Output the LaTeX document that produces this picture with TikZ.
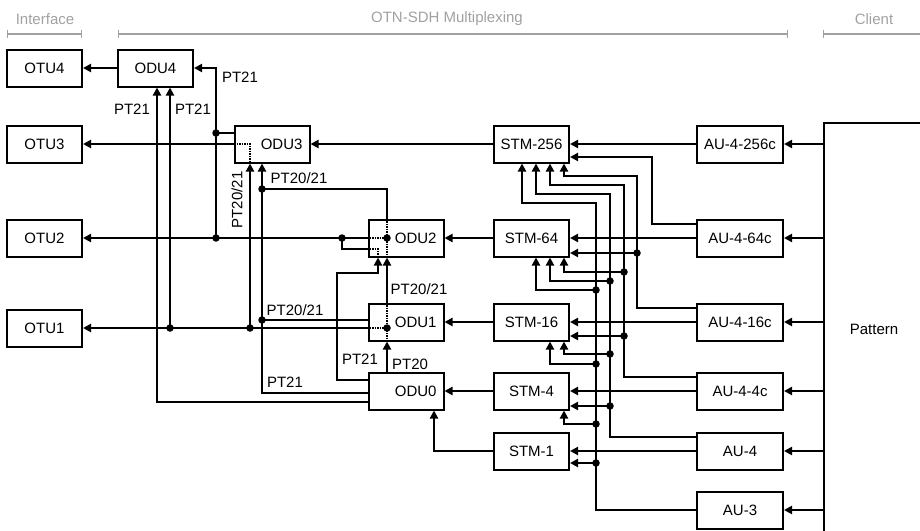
\documentclass[tikz,border=0pt]{standalone}
\usepackage{fontspec}
\setmainfont{Liberation Sans}
\usetikzlibrary{positioning,arrows.meta}

\begin{document}
\begin{tikzpicture}[x=1pt, y=-1pt, >={Triangle[length=8pt,width=8pt]}, line width=2pt,
  font=\fontsize{15}{17}\selectfont,
  box/.style={draw, minimum width=75pt, minimum height=37pt, inner sep=0pt},
  odu/.style={box, text width=61pt, align=right},
  au/.style={box, minimum width=86pt},
  lbl/.style={inner sep=0pt},
  hdr/.style={inner sep=0pt, text=black!37},
  brk/.style={draw=black!37, line width=1.3pt},
  inlink/.style={densely dotted, line width=1.5pt}]
\useasboundingbox (0,0) rectangle (920,530);
% header
\node[hdr] (hif) at (45,19) {Interface};
\node[hdr] (hotn) at (447,19) {OTN-SDH Multiplexing};
\node[hdr] (hcl) at (874,19) {Client};
\draw[brk, {Bar[width=8pt]}-{Bar[width=8pt]}] (7,34) -- (82,34);
\draw[brk, {Bar[width=8pt]}-{Bar[width=8pt]}] (118,34) -- (788,34);
\draw[brk, {Bar[width=8pt]}-] (823,34) -- (925,34);
% boxes
\node[box] (otu4) at (44.5,68) {OTU4};
\node[box] (otu3) at (44.5,144) {OTU3};
\node[box] (otu2) at (44.5,238) {OTU2};
\node[box] (otu1) at (44.5,328) {OTU1};
\node[box] (odu4) at (155.5,68) {ODU4};
\node[odu] (odu3) at (272,144) {ODU3};
\node[odu] (odu2) at (406,238) {ODU2};
\node[odu] (odu1) at (406,322) {ODU1};
\node[odu] (odu0) at (406,391) {ODU0};
\node[box, right=48.5pt of odu2] (stm64) {STM-64};
\node[box] (stm256) at (stm64 |- odu3) {STM-256};
\node[box, right=48.5pt of odu1] (stm16) {STM-16};
\node[box, right=48.5pt of odu0] (stm4) {STM-4};
\node[box, below=21pt of stm4] (stm1) {STM-1};
\node[au, right=126pt of stm256] (au256) {AU-4-256c};
\node[au, right=126pt of stm64] (au64) {AU-4-64c};
\node[au, right=126pt of stm16] (au16) {AU-4-16c};
\node[au, right=126pt of stm4] (au4c) {AU-4-4c};
\node[au, right=126pt of stm1] (au4) {AU-4};
\node[au, below=20pt of au4] (au3) {AU-3};
\node[box, minimum width=100pt, minimum height=412pt, anchor=north west] (pat) at (823,122) {Pattern};
% labels
\node[lbl] (p1) at (240,77) {PT21};
\node[lbl] (p2) at (132,109) {PT21};
\node[lbl] (p3) at (193,109) {PT21};
\node[lbl, rotate=90] (p4) at (237,200) {PT20/21};
\node[lbl] (p5) at (299,178) {PT20/21};
\node[lbl] (p6) at (419,289) {PT20/21};
\node[lbl] (p7) at (295,310) {PT20/21};
\node[lbl] (p8) at (360,359) {PT21};
\node[lbl] (p9) at (410,364) {PT20};
\node[lbl] (p10) at (285,382) {PT21};
% junctions
\coordinate (ja) at (216,133);
\coordinate (jb) at (216,238);
\coordinate (jc) at (170,328);
\coordinate (jd) at (250,328);
\coordinate (je) at (262,189);
\coordinate (jf) at (262,320);
\coordinate (jg) at (342,238);
\coordinate (jh) at (387,238);
\coordinate (ji) at (387,328);
\coordinate (k1) at (637,253);
\coordinate (k2) at (624,272);
\coordinate (k3) at (624,336);
\coordinate (k4) at (610,281);
\coordinate (k5) at (610,354);
\coordinate (k6) at (610,406);
\coordinate (k7) at (596,290);
\coordinate (k8) at (596,364);
\coordinate (k9) at (596,424);
\coordinate (k10) at (596,463);
% main rows
\foreach \a/\b in {pat.west |- au256/au256, pat.west |- au64/au64, pat.west |- au16/au16,
  pat.west |- au4c/au4c, pat.west |- au4/au4, pat.west |- au3/au3} \draw[->] (\a) -- (\b);
\foreach \a/\b in {au256/stm256, au64/stm64, au16/stm16, au4c/stm4, au4/stm1,
  stm256/odu3, stm64/odu2, stm16/odu1, stm4/odu0, odu4/otu4, odu3/otu3, odu2/otu2} \draw[->] (\a) -- (\b);
\draw[->] (ji -| odu1.west) -- (otu1);
% SDH side
\draw[->] ([yshift=14pt]au64.west) -- ++(-44,0) |- ([yshift=-13pt]stm256.east);
\draw[->] ([yshift=14pt]au16.west) -| (637,176) -| ([xshift=32.5pt]stm256.south);
\draw[->] ([yshift=14pt]au4c.west) -| (624,185) -| ([xshift=18.5pt]stm256.south);
\draw[->] ([yshift=14pt]au4.west) -| (610,194) -| ([xshift=4.5pt]stm256.south);
\draw[->] (au3) -| (596,203) -| ([xshift=-9.5pt]stm256.south);
\draw[->] (k1) -- (k1 -| stm64.east);
\draw[->] (k2) -| ([xshift=32.5pt]stm64.south);
\draw[->] (k4) -| ([xshift=18.5pt]stm64.south);
\draw[->] (k7) -| ([xshift=4.5pt]stm64.south);
\draw[->] (k3) -- (k3 -| stm16.east);
\draw[->] (k5) -| ([xshift=32.5pt]stm16.south);
\draw[->] (k8) -| ([xshift=18.5pt]stm16.south);
\draw[->] (k6) -- (k6 -| stm4.east);
\draw[->] (k9) -| ([xshift=32.5pt]stm4.south);
\draw[->] (k10) -- (k10 -| stm1.east);
% OTN side
\draw[->] (jb) |- (odu4);
\draw (ja) -- (ja -| odu3.west);
\draw[->] (jc) -- (jc |- odu4.south);
\draw[->] (jd) -- (jd |- odu3.south);
\draw[->] ([yshift=-11pt]odu0.west) -| ([xshift=1.5pt]odu4.south);
\draw[->] ([yshift=-2pt]odu0.west) -| ([xshift=-10pt]odu3.south);
\draw (je) -| ([xshift=-19pt]odu2.north);
\draw (jf) -- (jf -| odu1.west);
\draw (jg) |- ([yshift=-11pt]odu2.west);
\draw[->] ([yshift=11pt]odu0.west) -| (337,273) -| ([xshift=-28pt]odu2.south);
\draw[->] ([xshift=-19pt]odu1.north) -- ([xshift=-19pt]odu2.south);
\draw[->] ([xshift=-19pt]odu0.north) -- ([xshift=-19pt]odu1.south);
\draw[->] (stm1) -| ([xshift=28pt]odu0.south);
% dotted cross-connects
\draw[inlink] ([xshift=3pt]odu3.west) -| ([xshift=-22pt]odu3.south);
\draw[inlink] ([xshift=-19pt]odu2.north) -- ([xshift=-19pt]odu2.south);
\draw[inlink] ([xshift=2pt]odu2.west) -- (jh);
\draw[inlink] ([xshift=2pt,yshift=-11pt]odu2.west) -| ([xshift=-28pt]odu2.south);
\draw[inlink] ([xshift=-19pt]odu1.north) -- ([xshift=-19pt]odu1.south);
\draw[inlink] ([xshift=2pt]ji -| odu1.west) -- (ji);
\foreach \j in {ja,jb,jc,jd,je,jf,jg,jh,ji,k1,k2,k3,k4,k5,k6,k7,k8,k9,k10}
  \fill (\j) circle (3.75pt);
\end{tikzpicture}
\end{document}
